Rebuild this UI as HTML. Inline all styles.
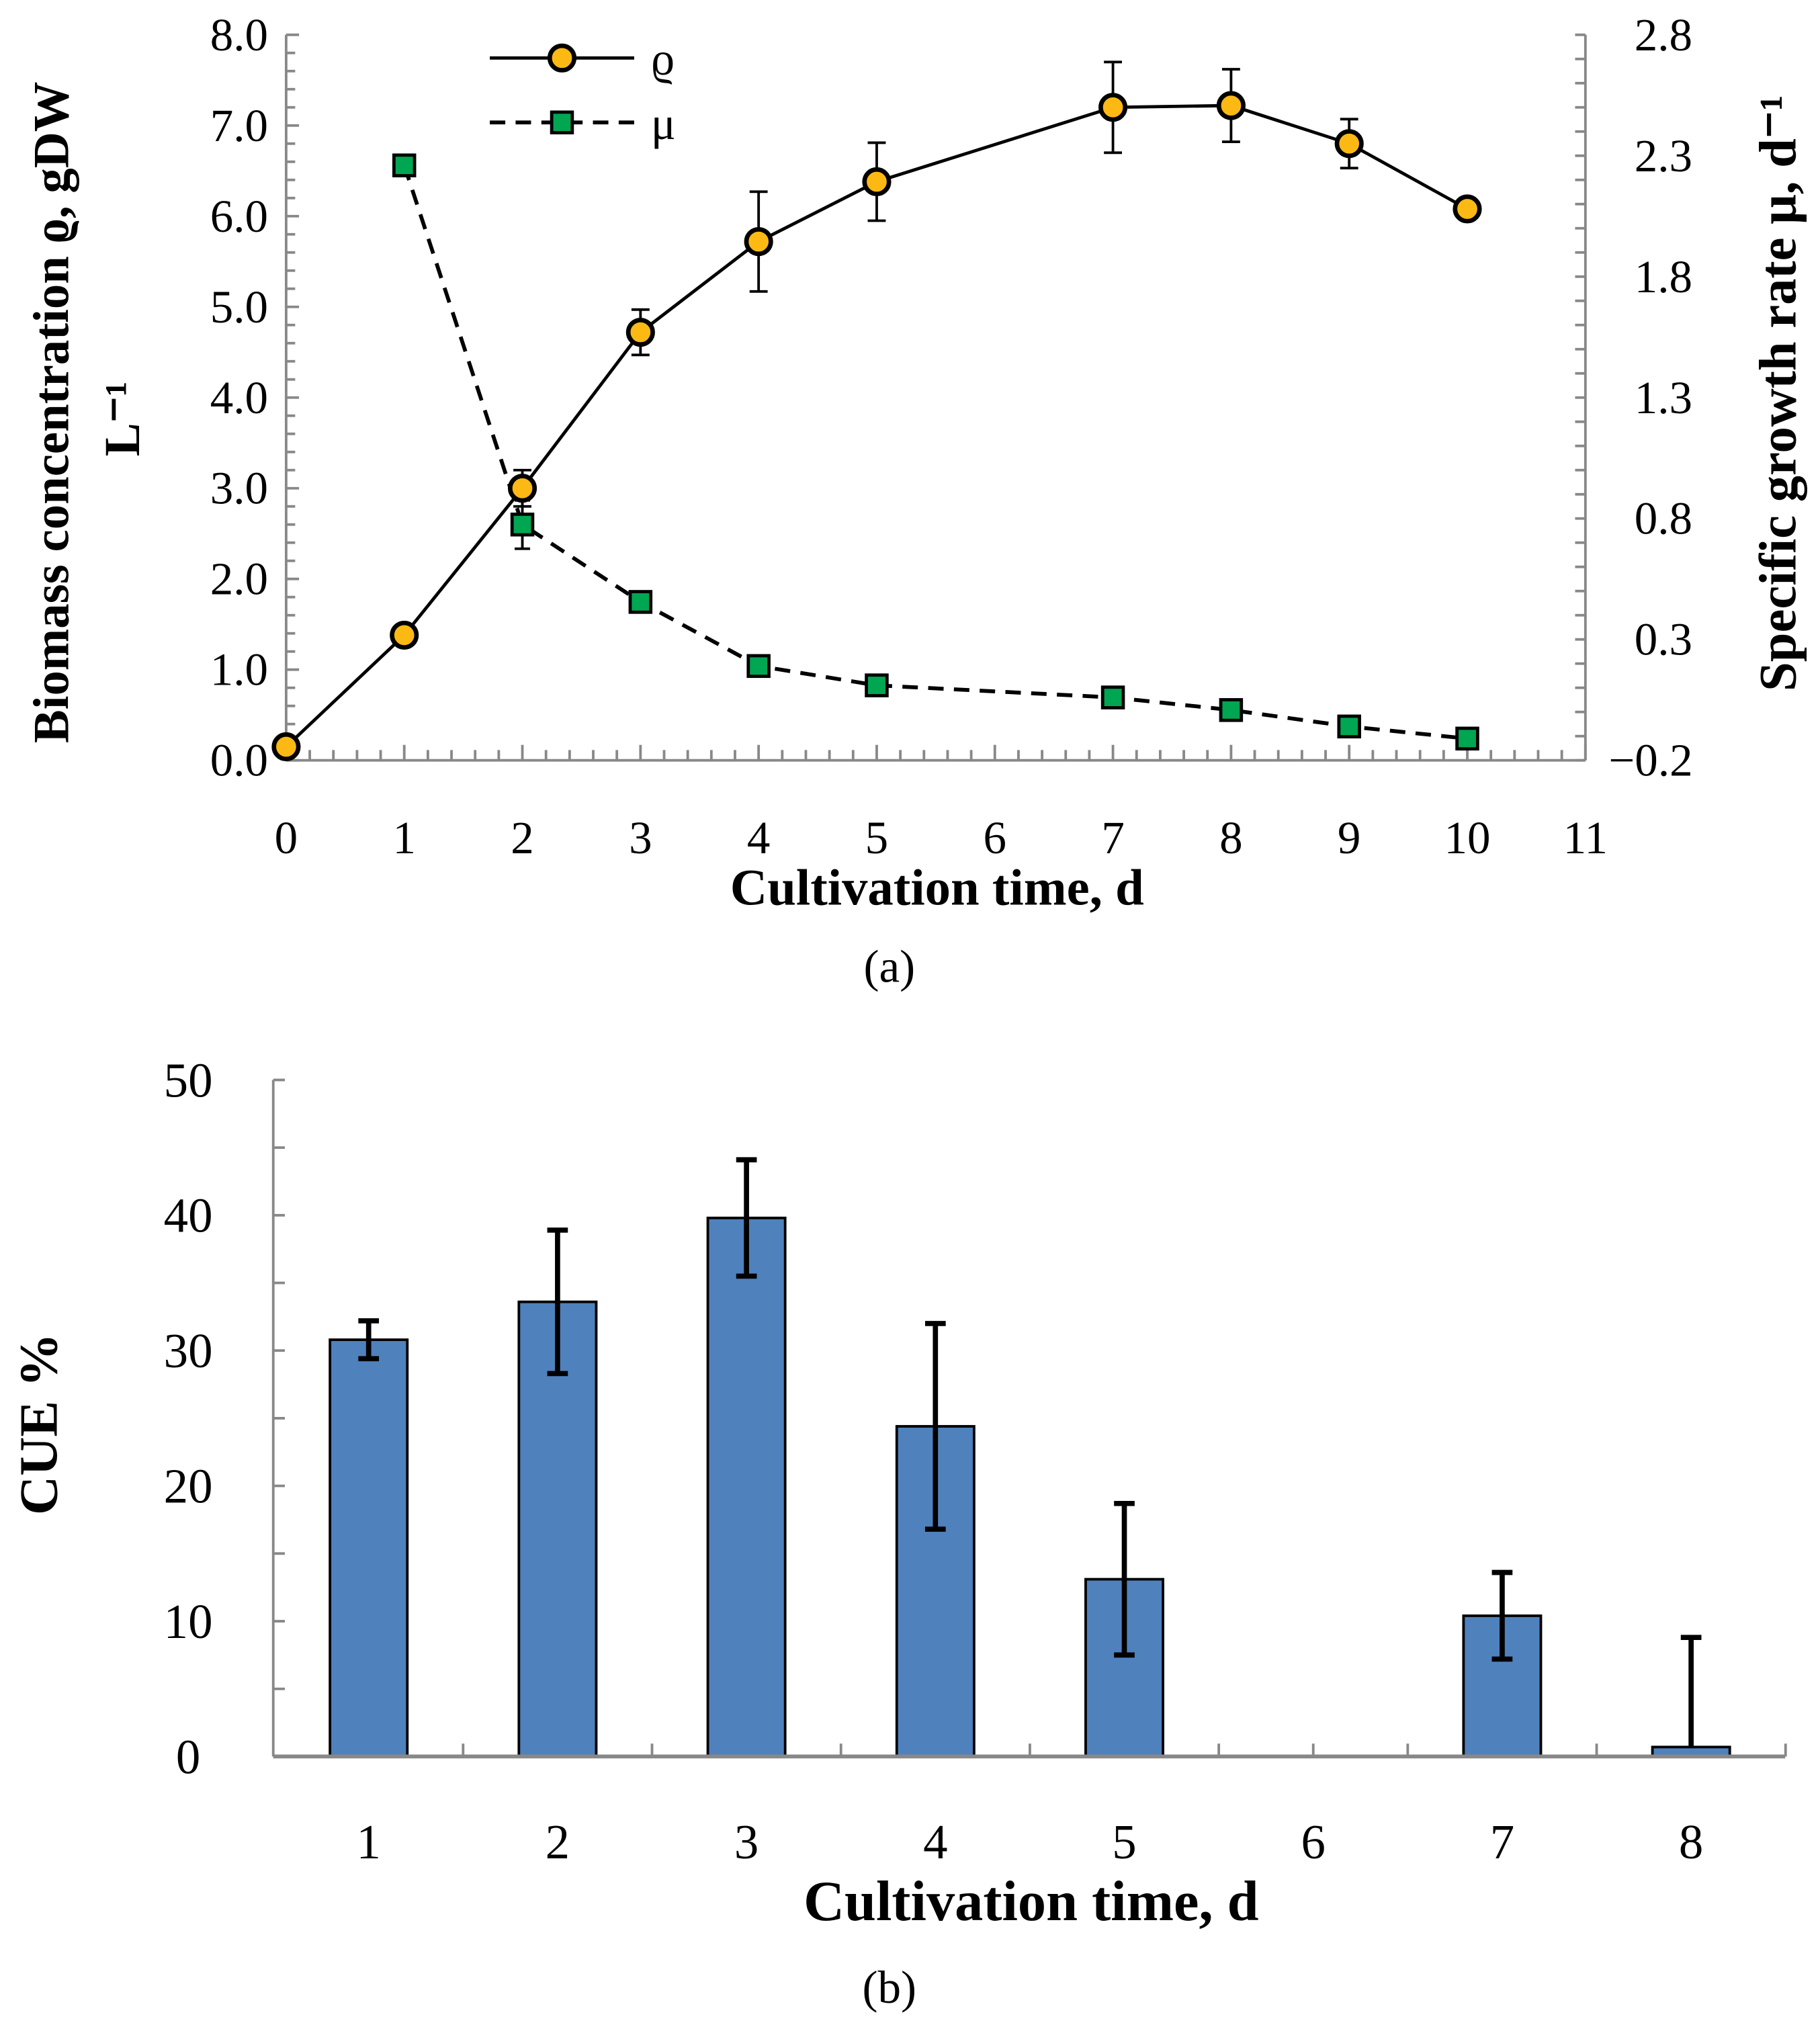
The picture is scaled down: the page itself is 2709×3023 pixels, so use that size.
<!DOCTYPE html>
<html><head><meta charset="utf-8"><style>
html,body{margin:0;padding:0;background:#fff}
svg{display:block;font-family:"Liberation Serif",serif}
svg text{font-family:"Liberation Serif",serif}
</style></head><body>
<svg id="c" width="2709" height="3023" viewBox="0 0 1412 1576" preserveAspectRatio="none" xmlns="http://www.w3.org/2000/svg"></svg>
<script>
// Chart (a) data
const daysA = [0,1,2,3,4,5,7,8,9,10];
const rho = [0.15,1.38,3.0,4.72,5.72,6.38,7.2,7.22,6.8,6.08];
const rhoErr = [0,0,0.2,0.25,0.55,0.43,0.5,0.4,0.27,0];
const muDays = [1,2,3,4,5,7,8,9,10];
const mu = [2.26,0.775,0.455,0.19,0.11,0.06,0.008,-0.06,-0.11];
const muErr = [0,0.1,0,0,0,0,0,0,0];
const xTicksA = [0,1,2,3,4,5,6,7,8,9,10,11];
const xTickLabelsA = ["0","1","2","3","4","5","6","7","8","9","10","11"];
const yTicksL = [0,1,2,3,4,5,6,7,8];
const yTicksR = [-0.2,0.3,0.8,1.3,1.8,2.3,2.8];
// Chart (b) data
const cats = ["1","2","3","4","5","6","7","8"];
const cue = [30.8,33.6,39.8,24.4,13.1,0,10.4,0.7];
const cueErrLo = [1.4,5.3,4.3,7.6,5.6,0,3.2,0];
const cueErrHi = [1.4,5.3,4.3,7.6,5.6,0,3.2,8.1];
const yTicksB = [0,10,20,30,40,50];

const S="http://www.w3.org/2000/svg", svg=document.getElementById('c');
function el(t,a,txt){const e=document.createElementNS(S,t);for(const k in a)e.setAttribute(k,a[k]);if(t==='text')e.setAttribute('font-family','Liberation Serif, serif');if(txt!==undefined)e.textContent=txt;svg.appendChild(e);return e;}

// axes (a)
const L=222,R=1230,T=27,B=590;
const xA=d=>L+(R-L)*d/11, yL=v=>B-(B-T)*v/8, yR=v=>B-(B-T)*(v+0.2)/3;
let e;
e=el('line',{x1:L,y1:T,x2:L,y2:B,stroke:'#888','stroke-width':2});

e=el('line',{x1:R,y1:T,x2:R,y2:B,stroke:'#888','stroke-width':2});

e=el('line',{x1:L,y1:B,x2:R,y2:B,stroke:'#888','stroke-width':2});

for(let v=0;v<=8.001;v+=0.2){const y=yL(v);const maj=Math.abs(v-Math.round(v))<0.01;el('line',{x1:L,y1:y,x2:L+(maj?10:7),y2:y,stroke:'#888','stroke-width':2});}
for(let v=-0.2;v<=2.801;v+=0.1){const y=yR(v);el('line',{x1:R,y1:y,x2:R-8,y2:y,stroke:'#888','stroke-width':2});}
for(let d=0;d<=11.001;d+=0.2){const x=xA(d);const maj=Math.abs(d-Math.round(d))<0.01;el('line',{x1:x,y1:B,x2:x,y2:B-(maj?12:8),stroke:'#888','stroke-width':2});}
yTicksL.forEach(v=>{e=el('text',{x:L-14,y:yL(v)+12,'font-size':36,'text-anchor':'end'},v.toFixed(1));});
yTicksR.forEach(v=>{e=el('text',{x:R+38,y:yR(v)+12,'font-size':36},(v<0?'\u2212':'')+Math.abs(v).toFixed(1));if(v<0)e.setAttribute('x',R+38-20);});
xTicksA.forEach((d,i)=>{e=el('text',{x:xA(d),y:662,'font-size':36,'text-anchor':'middle'},xTickLabelsA[i]);});
e=el('text',{x:727,y:702,'font-size':40,'font-weight':'bold','text-anchor':'middle'},'Cultivation time, d');

e=el('text',{x:690,y:762,'font-size':36,'text-anchor':'middle'},'(a)');

e=el('text',{transform:'translate(53,320) rotate(-90)','font-size':39,'font-weight':'bold','text-anchor':'middle'},'Biomass concentration ϱ, gDW');

e=el('text',{transform:'translate(108,325) rotate(-90)','font-size':39,'font-weight':'bold','text-anchor':'middle'},'L⁻¹');

e=el('text',{transform:'translate(1393,305) rotate(-90)','font-size':41,'font-weight':'bold','text-anchor':'middle'},'Specific growth rate μ, d⁻¹');


// mu series
e=el('polyline',{points:muDays.map((d,i)=>xA(d)+','+yR(mu[i])).join(' '),fill:'none',stroke:'#000','stroke-width':3,'stroke-dasharray':'12,8'});

muDays.forEach((d,i)=>{if(muErr[i]>0){const x=xA(d);e=el('path',{d:`M${x},${yR(mu[i]+muErr[i])}V${yR(mu[i]-muErr[i])}M${x-6},${yR(mu[i]+muErr[i])}h12M${x-6},${yR(mu[i]-muErr[i])}h12`,stroke:'#000','stroke-width':2,fill:'none'});}});
// rho series
e=el('polyline',{points:daysA.map((d,i)=>xA(d)+','+yL(rho[i])).join(' '),fill:'none',stroke:'#000','stroke-width':2.5});

daysA.forEach((d,i)=>{if(rhoErr[i]>0){const x=xA(d);e=el('path',{d:`M${x},${yL(rho[i]+rhoErr[i])}V${yL(rho[i]-rhoErr[i])}M${x-7},${yL(rho[i]+rhoErr[i])}h14M${x-7},${yL(rho[i]-rhoErr[i])}h14`,stroke:'#000','stroke-width':2,fill:'none'});}});
muDays.forEach((d,i)=>{e=el('rect',{x:xA(d)-8,y:yR(mu[i])-8,width:16,height:16,fill:'#00a651',stroke:'#000','stroke-width':2.5});});
daysA.forEach((d,i)=>{e=el('circle',{cx:xA(d),cy:yL(rho[i]),r:9.5,fill:'#fdb913',stroke:'#000','stroke-width':3.5});});
// legend
el('line',{x1:380,y1:45,x2:492,y2:45,stroke:'#000','stroke-width':2.5});
e=el('circle',{cx:436,cy:45,r:9.5,fill:'#fdb913',stroke:'#000','stroke-width':3.5});
e=el('text',{x:505,y:58,'font-size':36},'ϱ');
el('line',{x1:380,y1:95,x2:492,y2:95,stroke:'#000','stroke-width':3,'stroke-dasharray':'12,8'});
e=el('rect',{x:428,y:87,width:16,height:16,fill:'#00a651',stroke:'#000','stroke-width':2.5});
e=el('text',{x:505,y:108,'font-size':36},'μ');

// chart (b)
const L2=212,R2=1385,T2=838,B2=1363;
const step=(1312-286)/7;
const xB=i=>286+step*i, yB=v=>B2-(B2-T2)*v/50;
e=el('line',{x1:L2,y1:T2,x2:L2,y2:B2,stroke:'#888','stroke-width':2});
for(let v=0;v<=50;v+=5){el('line',{x1:L2,y1:yB(v),x2:L2+9,y2:yB(v),stroke:'#888','stroke-width':2});}
for(let i=0;i<8;i++){el('line',{x1:xB(i),y1:B2,x2:xB(i),y2:B2-10,stroke:'#888','stroke-width':2});el('line',{x1:xB(i)+step/2,y1:B2,x2:xB(i)+step/2,y2:B2-10,stroke:'#888','stroke-width':2});}
yTicksB.forEach(v=>{e=el('text',{x:146,y:yB(v)+13,'font-size':38,'text-anchor':'middle'},String(v));});
cue.forEach((v,i)=>{if(v>0){e=el('rect',{x:xB(i)-30,y:yB(v),width:60,height:B2-yB(v),fill:'#4f81bd',stroke:'#000','stroke-width':2});}});
e=el('line',{x1:L2,y1:B2,x2:R2,y2:B2,stroke:'#888','stroke-width':3});
cue.forEach((v,i)=>{if(cueErrHi[i]>0){const x=xB(i),t=yB(v+cueErrHi[i]),b=yB(v-cueErrLo[i]);e=el('path',{d:`M${x},${t}V${b}M${x-8},${t}h16`+(cueErrLo[i]>0?`M${x-8},${b}h16`:''),stroke:'#000','stroke-width':4,fill:'none'});}});
cats.forEach((c,i)=>{e=el('text',{x:xB(i),y:1442,'font-size':38,'text-anchor':'middle'},c);});
e=el('text',{x:800,y:1490,'font-size':44,'font-weight':'bold','text-anchor':'middle'},'Cultivation time, d');
e=el('text',{x:690,y:1554,'font-size':36,'text-anchor':'middle'},'(b)');
e=el('text',{transform:'translate(44,1105) rotate(-90)','font-size':42,'font-weight':'bold','text-anchor':'middle'},'CUE %');
</script>
</body></html>
